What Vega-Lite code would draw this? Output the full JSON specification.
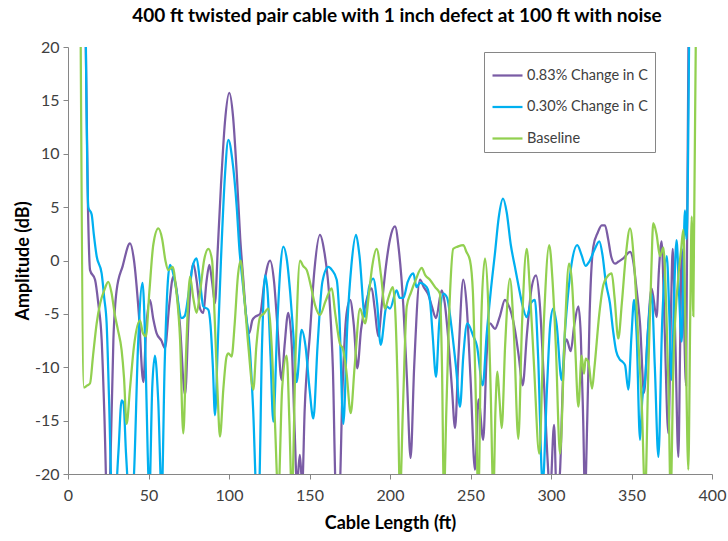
{
 "$schema": "https://vega.github.io/schema/vega-lite/v6.json",
 "width": 644, "height": 427,
 "autosize": {"type": "none"},
 "padding": {"left": 68, "top": 47, "right": 16, "bottom": 67},
 "background": "white",
 "config": {"view": {"stroke": null}, "font": "Lato"},
 "title": {"text": "400 ft twisted pair cable with 1 inch defect at 100 ft with noise", "fontSize": 19, "fontWeight": "bold", "font": "Lato", "color": "#000000", "anchor": "middle", "offset": 13, "dx": 7},
 "datasets": {
  "p": [
{"x":10.6,"y":25},{"x":12.4,"y":5.0},{"x":13.7,"y":-0.9},{"x":16.8,"y":-1.8},{"x":18.8,"y":-4.0},{"x":20.9,"y":-7.4},{"x":22.5,"y":-14},{"x":24.8,"y":-25},{"x":26.2,"y":-20},{"x":28.2,"y":-7.4},{"x":30.2,"y":-2.8},{"x":34,"y":-0.5},{"x":38.5,"y":1.6},{"x":41,"y":0},{"x":44,"y":-5},{"x":46.8,"y":-11.4},{"x":48.5,"y":-6.5},{"x":50.9,"y":-3.7},{"x":53,"y":-5.5},{"x":55,"y":-6.8},{"x":58,"y":-7.5},{"x":60.2,"y":-8.2},{"x":63,"y":-4},{"x":65.4,"y":-1.5},{"x":67,"y":-2.3},{"x":69.5,"y":-6},{"x":72.7,"y":-12.6},{"x":75,"y":-5},{"x":77.8,"y":-0.3},{"x":80,"y":-2},{"x":82,"y":-4.5},{"x":84,"y":-4.9},{"x":86,"y":-2},{"x":87.8,"y":-0.4},{"x":89.5,"y":-2},{"x":91.3,"y":-4},{"x":93,"y":1},{"x":95,"y":7},{"x":97.5,"y":13},{"x":100.2,"y":15.7},{"x":102.5,"y":13.5},{"x":104.8,"y":8.2},{"x":107,"y":2},{"x":108.9,"y":-1.8},{"x":110.5,"y":-5},{"x":112.6,"y":-6.8},{"x":114.5,"y":-5.6},{"x":116.1,"y":-5.3},{"x":119.3,"y":-5},{"x":122,"y":-2},{"x":125.5,"y":0},{"x":128,"y":-2},{"x":130,"y":-6},{"x":132.7,"y":-11.2},{"x":134.5,"y":-8},{"x":136.8,"y":-4.9},{"x":139,"y":-8},{"x":140.8,"y":-16},{"x":142.2,"y":-21},{"x":144,"y":-18.2},{"x":145.5,"y":-21},{"x":147,"y":-14},{"x":150.3,"y":-6.8},{"x":153,"y":-1},{"x":156.5,"y":2.4},{"x":159,"y":1},{"x":162.7,"y":-4.3},{"x":164.5,"y":-10},{"x":166.5,"y":-22},{"x":168.5,"y":-22},{"x":170.5,"y":-12},{"x":173,"y":-5},{"x":175.2,"y":-3.7},{"x":177.5,"y":-6},{"x":179.7,"y":-10.1},{"x":182,"y":-6.5},{"x":184.5,"y":-4.3},{"x":188.6,"y":-2.6},{"x":190.5,"y":-4.5},{"x":192.7,"y":-7.1},{"x":195,"y":-4},{"x":197.5,"y":-0.5},{"x":200,"y":2},{"x":203.1,"y":3.2},{"x":205.5,"y":1},{"x":208.3,"y":-4.3},{"x":210.5,"y":-11},{"x":212.8,"y":-18.5},{"x":215,"y":-10},{"x":218.6,"y":-1.8},{"x":221,"y":-2.5},{"x":223.8,"y":-3.2},{"x":226,"y":-4.3},{"x":228.6,"y":-5.4},{"x":232.1,"y":-2.8},{"x":234,"y":-4},{"x":236,"y":-7},{"x":238.5,"y":-12},{"x":240.4,"y":-15.7},{"x":242.5,"y":-9},{"x":245.5,"y":-1.8},{"x":247.5,"y":-4},{"x":250,"y":-11},{"x":252.8,"y":-19.6},{"x":255,"y":-13},{"x":257.9,"y":-16.8},{"x":260,"y":-9},{"x":262.1,"y":-5.9},{"x":265.2,"y":-6.4},{"x":268.3,"y":-5.2},{"x":271.4,"y":-3.7},{"x":273,"y":-4},{"x":275.5,"y":-5},{"x":277.6,"y":-6.5},{"x":280,"y":-9},{"x":282.4,"y":-11.7},{"x":285,"y":-7},{"x":288,"y":-2.5},{"x":290.7,"y":-1.4},{"x":293,"y":-4},{"x":295.5,"y":-11},{"x":298,"y":-19},{"x":299.4,"y":-22},{"x":301.9,"y":-15.4},{"x":303.5,"y":-22},{"x":305.5,"y":-20},{"x":307.5,"y":-11},{"x":309.7,"y":-7.4},{"x":312.2,"y":-8.5},{"x":314.5,"y":-6},{"x":317,"y":-4.3},{"x":318.5,"y":-7},{"x":320,"y":-15},{"x":321.1,"y":-22},{"x":322.5,"y":-15},{"x":324,"y":-5},{"x":326.3,"y":1.3},{"x":329,"y":2.6},{"x":331.5,"y":3.3},{"x":333.5,"y":3.3},{"x":335.5,"y":2},{"x":337.5,"y":0.3},{"x":339.8,"y":-0.3},{"x":342,"y":-0.1},{"x":344.9,"y":0.2},{"x":349.1,"y":0.8},{"x":351,"y":0},{"x":353,"y":-2.5},{"x":355.3,"y":-5.9},{"x":357.8,"y":-12.4},{"x":360,"y":-7},{"x":362.5,"y":-2.6},{"x":365.6,"y":-5.3},{"x":367,"y":-1},{"x":368.7,"y":1.8},{"x":370.5,"y":-6},{"x":372.9,"y":-16.2},{"x":374.5,"y":-5},{"x":375.6,"y":1.1},{"x":377.3,"y":-8},{"x":379.1,"y":-18.4},{"x":380.3,"y":-7},{"x":381.2,"y":1.1},{"x":382.5,"y":-5},{"x":383.9,"y":-11.7},{"x":385.6,"y":25}
  ],
  "b": [
{"x":10.8,"y":25},{"x":12.6,"y":5.0},{"x":14.7,"y":4.3},{"x":16,"y":2.5},{"x":17.8,"y":0.4},{"x":20.9,"y":-1.2},{"x":22.5,"y":-3.5},{"x":24,"y":-5.9},{"x":25.5,"y":-13},{"x":27.1,"y":-22},{"x":28.5,"y":-24},{"x":31.3,"y":-18},{"x":33.3,"y":-13.1},{"x":34.5,"y":-13.4},{"x":36,"y":-18},{"x":37.5,"y":-22},{"x":38.5,"y":-24},{"x":41,"y":-20},{"x":43.5,"y":-8},{"x":46.3,"y":-2.1},{"x":48,"y":-8},{"x":49.5,"y":-18},{"x":50.5,"y":-22},{"x":52.3,"y":-12},{"x":54,"y":-8.9},{"x":56,"y":-13},{"x":58.2,"y":-22},{"x":60,"y":-10},{"x":62,"y":-2},{"x":63.4,"y":-0.4},{"x":65,"y":-1},{"x":67,"y":-2.5},{"x":70.6,"y":-5.4},{"x":72.5,"y":-5.2},{"x":75,"y":-3},{"x":77.5,"y":-0.5},{"x":79.9,"y":0.2},{"x":82,"y":-2},{"x":84,"y":-4.3},{"x":87.1,"y":-4.6},{"x":88.5,"y":-6},{"x":90,"y":-10},{"x":91.3,"y":-14.5},{"x":93,"y":-8},{"x":95,"y":0},{"x":97.5,"y":8},{"x":99.6,"y":11.3},{"x":102,"y":9.5},{"x":104.8,"y":5.0},{"x":106.5,"y":1},{"x":107.9,"y":-1.2},{"x":110.5,"y":-5},{"x":113,"y":-8.4},{"x":115,"y":-14},{"x":117.2,"y":-22},{"x":118.5,"y":-22},{"x":120.5,"y":-8},{"x":122.4,"y":-1.4},{"x":124,"y":-3},{"x":125.8,"y":-9},{"x":127.5,"y":-15.1},{"x":130,"y":-6},{"x":132,"y":-0.5},{"x":133.7,"y":1.3},{"x":136,"y":0},{"x":138,"y":-3},{"x":140,"y":-7},{"x":142,"y":-11.4},{"x":145.1,"y":-6.5},{"x":147.5,"y":-8},{"x":150,"y":-12},{"x":152.4,"y":-14.8},{"x":155,"y":-8},{"x":158,"y":-2},{"x":161.7,"y":-0.6},{"x":164,"y":-0.9},{"x":166.9,"y":-1.8},{"x":168.5,"y":-5},{"x":171,"y":-15.3},{"x":173.5,"y":-6},{"x":176,"y":-0.5},{"x":178.9,"y":2.4},{"x":181,"y":0.5},{"x":184.5,"y":-5.3},{"x":187,"y":-2.5},{"x":189.6,"y":-1.7},{"x":192,"y":-4},{"x":194.2,"y":-7.9},{"x":197.9,"y":-4.3},{"x":200,"y":-4.5},{"x":204.1,"y":-2.8},{"x":206,"y":-3.5},{"x":208.3,"y":-3.5},{"x":211,"y":-2},{"x":214.5,"y":-1.2},{"x":216.5,"y":-2.5},{"x":218.6,"y":-2.1},{"x":222.8,"y":-2.5},{"x":225,"y":-4},{"x":226.5,"y":-7},{"x":228.6,"y":-10.9},{"x":230.5,"y":-6},{"x":233.1,"y":-3.1},{"x":235.5,"y":-3.5},{"x":238,"y":-6},{"x":241,"y":-10},{"x":243.5,"y":-13.7},{"x":245.5,"y":-9},{"x":248,"y":-5.9},{"x":251.8,"y":-7.1},{"x":254,"y":-8},{"x":257.6,"y":-11.7},{"x":260,"y":-7},{"x":262.5,"y":-3},{"x":265.2,"y":0.7},{"x":267.5,"y":4},{"x":270.2,"y":5.8},{"x":272.5,"y":4.5},{"x":275,"y":1.5},{"x":277.6,"y":-0.6},{"x":280,"y":-2.5},{"x":282,"y":-4},{"x":284.9,"y":-5.3},{"x":287.5,"y":-4},{"x":290,"y":-3.7},{"x":292,"y":-9},{"x":294.8,"y":-21},{"x":297.5,"y":-12},{"x":299.5,"y":-6},{"x":301.4,"y":-4.5},{"x":303.5,"y":-6},{"x":306.6,"y":-11.2},{"x":309,"y":-6},{"x":312.8,"y":-0.3},{"x":316.3,"y":1.45},{"x":319,"y":0.5},{"x":321.5,"y":-0.5},{"x":323.8,"y":-0.1},{"x":327,"y":1},{"x":330,"y":1.8},{"x":332,"y":0.5},{"x":334,"y":-2},{"x":336.6,"y":-4},{"x":338.5,"y":-6.5},{"x":340.5,"y":-8.5},{"x":342.9,"y":-9.3},{"x":344.5,"y":-9.5},{"x":346,"y":-9.8},{"x":348,"y":-12.1},{"x":350,"y":-7},{"x":351.6,"y":-3.7},{"x":353.2,"y":-7},{"x":355.3,"y":-16.8},{"x":356.7,"y":-13},{"x":358.4,"y":-11.2},{"x":360.5,"y":-6},{"x":362.5,"y":-3.1},{"x":364.5,"y":-10},{"x":366.7,"y":-18.4},{"x":369,"y":-6},{"x":371.9,"y":0.4},{"x":373.5,"y":-5},{"x":375,"y":-11.2},{"x":376.5,"y":-3},{"x":378,"y":1.9},{"x":379.5,"y":-3},{"x":381.2,"y":-7.6},{"x":382.3,"y":0},{"x":383.2,"y":4.7},{"x":384.2,"y":2},{"x":386,"y":25}
  ],
  "g": [
{"x":7.7,"y":25},{"x":9.9,"y":-11.9},{"x":12,"y":-11.7},{"x":13.7,"y":-11.5},{"x":15.5,"y":-9},{"x":17.8,"y":-5.9},{"x":20,"y":-4},{"x":22.5,"y":-2.8},{"x":25,"y":-2},{"x":27,"y":-3},{"x":29,"y":-5},{"x":31,"y":-6.5},{"x":33.3,"y":-8.4},{"x":34.8,"y":-11},{"x":36.4,"y":-15.3},{"x":38.5,"y":-12},{"x":41,"y":-8},{"x":44.7,"y":-5.6},{"x":46.5,"y":-6.8},{"x":48.4,"y":-7.1},{"x":50.5,"y":-3},{"x":53,"y":1.5},{"x":56.1,"y":3.0},{"x":58.5,"y":2},{"x":60.5,"y":0},{"x":62.3,"y":-0.9},{"x":65,"y":-0.6},{"x":67,"y":-2.5},{"x":69.6,"y":-7.4},{"x":71.6,"y":-16.2},{"x":73.5,"y":-8},{"x":75.8,"y":-1.5},{"x":77.8,"y":-3.5},{"x":79.9,"y":-4.9},{"x":82,"y":-3},{"x":84.5,"y":0},{"x":87.2,"y":1.1},{"x":89.5,"y":0},{"x":91,"y":-5},{"x":92.8,"y":-12},{"x":94.4,"y":-16.5},{"x":96.5,"y":-12},{"x":98.5,"y":-9},{"x":99.6,"y":-8.7},{"x":101.6,"y":-9.0},{"x":103.5,"y":-6},{"x":105.5,"y":-1.5},{"x":107.2,"y":0},{"x":109.5,"y":-3.5},{"x":112,"y":-8},{"x":115.1,"y":-12.1},{"x":117,"y":-8},{"x":119.3,"y":-5.3},{"x":121.5,"y":-5},{"x":124.4,"y":-4.5},{"x":126.5,"y":-8},{"x":128.5,"y":-15},{"x":130.6,"y":-22},{"x":133,"y":-12},{"x":135.8,"y":-8.9},{"x":137.5,"y":-15},{"x":139,"y":-22},{"x":141.5,"y":-8},{"x":144.1,"y":0},{"x":146,"y":-0.5},{"x":148.3,"y":-0.9},{"x":151,"y":-2.5},{"x":153.5,"y":-4.2},{"x":156.5,"y":-5.1},{"x":160,"y":-3.8},{"x":163.8,"y":-2.6},{"x":166,"y":-5},{"x":168.9,"y":-7.8},{"x":170.8,"y":-8.3},{"x":173,"y":-10.5},{"x":175.6,"y":-14.3},{"x":178,"y":-10},{"x":181.4,"y":-4.5},{"x":184.5,"y":-5.9},{"x":187,"y":-3},{"x":189,"y":-0.5},{"x":191.7,"y":1.1},{"x":194.5,"y":-1.5},{"x":196.9,"y":-4.5},{"x":199,"y":-3.5},{"x":201.7,"y":-2.5},{"x":203,"y":-4},{"x":204.8,"y":-12},{"x":206.2,"y":-22},{"x":208,"y":-14},{"x":210.4,"y":-4.3},{"x":213,"y":-3},{"x":216,"y":-1.8},{"x":219.7,"y":-0.7},{"x":222,"y":-1.4},{"x":224.8,"y":-1.8},{"x":228,"y":-2.5},{"x":231,"y":-3.1},{"x":232.3,"y":-10},{"x":233.5,"y":-22},{"x":235,"y":-14},{"x":237.3,"y":-3},{"x":239.3,"y":1.1},{"x":242,"y":1.3},{"x":245.5,"y":1.45},{"x":247.5,"y":0.8},{"x":249.7,"y":0},{"x":251.5,"y":-3},{"x":253,"y":-11},{"x":254.9,"y":-22},{"x":256.8,"y":-5},{"x":259,"y":0.2},{"x":261,"y":-4},{"x":262.5,"y":-12},{"x":264.2,"y":-22},{"x":265.5,"y":-14},{"x":266.7,"y":-10.4},{"x":268,"y":-13},{"x":269.4,"y":-15.7},{"x":271.5,"y":-8},{"x":274.5,"y":-1.7},{"x":277,"y":-7},{"x":279.7,"y":-16.7},{"x":282,"y":-6},{"x":284.9,"y":1.1},{"x":287,"y":-3},{"x":289.5,"y":-10},{"x":292.7,"y":-18.1},{"x":295.5,"y":-6},{"x":298.9,"y":1.45},{"x":301,"y":-2},{"x":303,"y":-8},{"x":305.6,"y":-18.1},{"x":308.5,"y":-7},{"x":311.2,"y":-0.3},{"x":313,"y":-2},{"x":315,"y":-8},{"x":317,"y":-13.7},{"x":319,"y":-8.9},{"x":320.5,"y":-10.6},{"x":321.5,"y":-9.2},{"x":323.2,"y":-9.5},{"x":325.5,"y":-12},{"x":327,"y":-10},{"x":330,"y":-5},{"x":332.5,"y":-2.3},{"x":335,"y":-1.5},{"x":337.7,"y":-1.2},{"x":339.5,"y":-3.5},{"x":341.8,"y":-7.3},{"x":344,"y":-4},{"x":346.5,"y":0.5},{"x":349.1,"y":3.0},{"x":351.5,"y":0},{"x":354.2,"y":-7.4},{"x":356.5,"y":-14},{"x":358.4,"y":-22},{"x":360.5,"y":-10},{"x":362.3,"y":-1},{"x":363.5,"y":3.5},{"x":365.5,"y":2.5},{"x":367.7,"y":0.4},{"x":369.8,"y":1.2},{"x":371.5,"y":-4},{"x":373,"y":-12},{"x":374.3,"y":-22},{"x":376,"y":-10},{"x":379.1,"y":-1.5},{"x":380.8,"y":1},{"x":382.2,"y":2.9},{"x":383.5,"y":-6},{"x":385.3,"y":-19.6},{"x":386.5,"y":-5},{"x":387.4,"y":4.1},{"x":388.4,"y":-5.2},{"x":390.2,"y":25}
  ]
 },
 "encoding": {
  "x": {"field": "x", "type": "quantitative", "scale": {"domain": [0, 400], "nice": false},
        "axis": {"values": [0,50,100,150,200,250,300,350,400], "grid": false, "labelFlush": false, "domainColor": "#868686", "tickColor": "#868686", "tickSize": 5, "labelFont": "Lato", "labelFontSize": 16, "labelColor": "#404040", "labelPadding": 8, "title": "Cable Length (ft)", "titleFont": "Lato", "titleFontSize": 18, "titleFontWeight": "bold", "titleColor": "#000000", "titlePadding": 11}},
  "y": {"field": "y", "type": "quantitative", "scale": {"domain": [-20, 20], "nice": false},
        "axis": {"values": [-20,-15,-10,-5,0,5,10,15,20], "grid": false, "labelFlush": false, "domainColor": "#868686", "tickColor": "#868686", "tickSize": 5, "labelFont": "Lato", "labelFontSize": 16, "labelColor": "#404040", "labelPadding": 4, "labelExpr": "'' + datum.value", "title": "Amplitude (dB)", "titleFont": "Lato", "titleFontSize": 18, "titleFontWeight": "bold", "titleColor": "#000000", "titlePadding": 2}}
 },
 "layer": [
  {"data": {"name": "p"}, "mark": {"type": "line", "clip": true, "strokeWidth": 2.25, "interpolate": "monotone"},
   "encoding": {"color": {"datum": "0.83% Change in C", "type": "nominal",
     "scale": {"domain": ["0.83% Change in C", "0.30% Change in C", "Baseline"], "range": ["#7A5CA5", "#00B0F0", "#92D050"]},
     "legend": {"orient": "none", "legendX": 416, "legendY": 5, "title": null, "strokeColor": "#868686", "fillColor": "white", "padding": 7, "symbolType": "stroke", "symbolSize": 900, "symbolStrokeWidth": 2.25, "labelFont": "Lato", "labelFontSize": 14.5, "labelColor": "#404040", "rowPadding": 8.5, "labelOffset": 3}}}},
  {"data": {"name": "b"}, "mark": {"type": "line", "clip": true, "strokeWidth": 2.25, "interpolate": "monotone"},
   "encoding": {"color": {"datum": "0.30% Change in C", "type": "nominal"}}},
  {"data": {"name": "g"}, "mark": {"type": "line", "clip": true, "strokeWidth": 2.25, "interpolate": "monotone"},
   "encoding": {"color": {"datum": "Baseline", "type": "nominal"}}}
 ]
}
